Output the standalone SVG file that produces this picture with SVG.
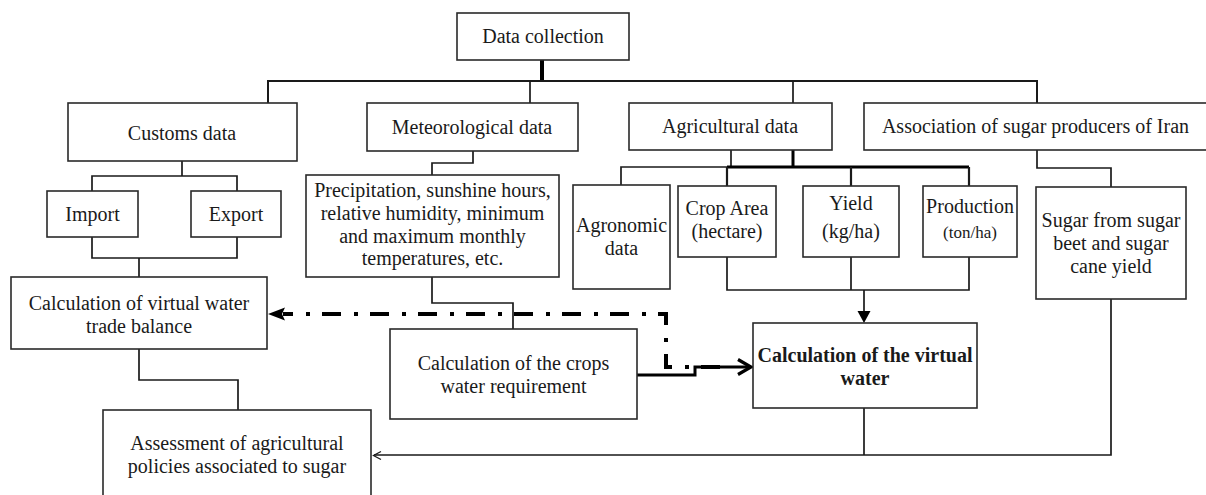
<svg xmlns="http://www.w3.org/2000/svg" width="1206" height="495" viewBox="0 0 1206 495">
<style>
.box{fill:#fff;stroke:#2a2a2a;stroke-width:1.6}
.t{font-family:"Liberation Serif","Times New Roman",serif;font-size:20px;fill:#1a1a1a;text-anchor:middle}
.b{font-weight:bold}
.ln{fill:none;stroke:#1a1a1a;stroke-width:1.7}
.thk{fill:none;stroke:#000;stroke-width:3}
.dd{fill:none;stroke:#000;stroke-width:4;stroke-dasharray:19 12 4 13}
</style>
<rect width="1206" height="495" fill="#fff"/>
<g id="connectors">
<path class="thk" d="M542,60 V81" style="stroke-width:4"/>
<path class="ln" d="M268,103 V81 H1037 V103" style="stroke-width:2"/>
<path class="ln" d="M530,81 V103 M793,81 V103"/>
<path class="ln" d="M182,161 V176 M92,191 V176 H237 V191"/>
<path class="ln" d="M92,237 V258 H237 V237 M139,258 V277"/>
<path class="ln" d="M139,349 V380 H238 V410"/>
<path class="ln" d="M473,151 V163 H432 V175"/>
<path class="ln" d="M432,277 V303 H513 V329"/>
<path class="ln" d="M731,150 V167 H621 V185"/>
<path class="thk" d="M793,150 V167 M727,167 H969"/>
<path class="ln" d="M727,167 V186 M851,167 V186 M969,167 V186" style="stroke-width:2.2"/>
<path class="ln" d="M1037,150 V168 H1111 V187"/>
<path class="ln" d="M727,257 V290 H969 V257 M851,257 V290 M864,290 V312"/>
<polygon points="857.5,311 870.5,311 864,323" fill="#000"/>
<path class="ln" d="M1111,299 V455 H374 M864,408 V455"/>
<path class="ln" d="M381,451.5 L373.5,455.5 L381,459.5" style="stroke-width:1.3"/>
<path class="thk" d="M637,375 H695 V367 H750"/>
<path class="thk" d="M738,359.5 L751,367 L738,374.5" style="stroke-width:3.2"/>
<path class="dd" d="M720,367 H666 V314 H283"/>
<polygon points="268,314 285,307.5 282,314 285,320.5" fill="#000"/>
</g>
<g id="data-collection"><rect class="box" x="457" y="13" width="172" height="47"/><text class="t" x="543" y="43">Data collection</text></g>
<g id="customs"><rect class="box" x="68" y="103" width="229" height="58"/><text class="t" x="182" y="140">Customs data</text></g>
<g id="meteorological"><rect class="box" x="367" y="103" width="211" height="48"/><text class="t" x="472" y="134">Meteorological data</text></g>
<g id="agricultural"><rect class="box" x="629" y="103" width="203" height="47"/><text class="t" x="730" y="133">Agricultural data</text></g>
<g id="association"><rect class="box" x="864" y="103" width="346" height="47"/><text class="t" x="1035.5" y="133">Association of sugar producers of Iran</text></g>
<g id="import"><rect class="box" x="47" y="191" width="91" height="46"/><text class="t" x="92.5" y="221">Import</text></g>
<g id="export"><rect class="box" x="191" y="191" width="90" height="46"/><text class="t" x="236" y="221">Export</text></g>
<g id="precipitation"><rect class="box" x="306" y="175" width="253" height="102"/>
<text class="t" x="432.5" y="197">Precipitation, sunshine hours,</text>
<text class="t" x="432.5" y="220">relative humidity, minimum</text>
<text class="t" x="432.5" y="243">and maximum monthly</text>
<text class="t" x="432.5" y="265">temperatures, etc.</text></g>
<g id="agronomic"><rect class="box" x="573" y="185" width="97" height="104"/>
<text class="t" x="621.5" y="232">Agronomic</text><text class="t" x="621.5" y="255">data</text></g>
<g id="crop-area"><rect class="box" x="678" y="186" width="98" height="71"/>
<text class="t" x="727" y="215">Crop Area</text><text class="t" x="727" y="238">(hectare)</text></g>
<g id="yield"><rect class="box" x="803" y="186" width="96" height="71"/>
<text class="t" x="851" y="210">Yield</text><text class="t" x="851" y="238">(kg/ha)</text></g>
<g id="production"><rect class="box" x="923" y="186" width="94" height="71"/>
<text class="t" x="970" y="213">Production</text><text class="t" x="970" y="238" style="font-size:17px">(ton/ha)</text></g>
<g id="sugar"><rect class="box" x="1036" y="187" width="150" height="112"/>
<text class="t" x="1111" y="227">Sugar from sugar</text>
<text class="t" x="1111" y="250">beet and sugar</text>
<text class="t" x="1111" y="273">cane yield</text></g>
<g id="trade-balance"><rect class="box" x="11" y="277" width="256" height="72"/>
<text class="t" x="139" y="310">Calculation of virtual water</text>
<text class="t" x="139" y="333">trade balance</text></g>
<g id="crops-water"><rect class="box" x="390" y="329" width="247" height="90"/>
<text class="t" x="513.5" y="370">Calculation of the crops</text>
<text class="t" x="513.5" y="393">water requirement</text></g>
<g id="virtual-water"><rect class="box" x="753" y="323" width="224" height="85"/>
<text class="t b" x="865" y="362">Calculation of the virtual</text>
<text class="t b" x="865" y="385">water</text></g>
<g id="assessment"><rect class="box" x="103" y="410" width="268" height="92"/>
<text class="t" x="237" y="450">Assessment of agricultural</text>
<text class="t" x="237" y="473">policies associated to sugar</text></g>
</svg>
